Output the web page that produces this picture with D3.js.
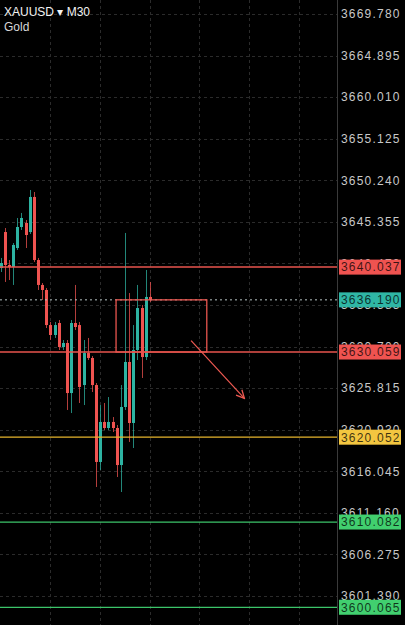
<!DOCTYPE html>
<html>
<head>
<meta charset="utf-8">
<script src="https://cdnjs.cloudflare.com/ajax/libs/d3/7.8.5/d3.min.js"></script>
<style>
  html, body { margin: 0; padding: 0; background: #000; overflow: hidden; }
  #chart { width: 405px; height: 625px; }
</style>
</head>
<body>
<div id="chart"></div>
<script>
// XAUUSD M30 bars (oldest first)
var opens  = [3639.93, 3644.16, 3640.29, 3640.05, 3642.28, 3644.75, 3645.22, 3644.16, 3648.28, 3640.87,
              3637.94, 3637.35, 3633.23, 3632.06, 3633.47, 3630.65, 3631.12, 3625.24, 3633.47, 3633.23,
              3626.18, 3629.94, 3629.36, 3626.18, 3617.14, 3621.84, 3621.13, 3621.84, 3621.13, 3616.78,
              3623.60, 3628.89, 3621.72, 3630.30, 3635.23, 3629.47, 3636.53];
var highs  = [3641.11, 3644.63, 3640.87, 3642.87, 3645.81, 3646.40, 3645.57, 3649.10, 3648.86, 3641.11,
              3638.17, 3637.58, 3633.59, 3633.59, 3633.82, 3631.47, 3631.47, 3633.82, 3637.94, 3633.59,
              3631.47, 3631.71, 3629.59, 3626.42, 3623.83, 3624.07, 3624.77, 3622.42, 3621.48, 3626.18,
              3644.05, 3636.99, 3633.23, 3637.94, 3635.58, 3639.70, 3638.29];
var lows   = [3639.46, 3638.29, 3638.52, 3637.94, 3642.05, 3644.40, 3642.28, 3643.93, 3640.64, 3637.35,
              3636.17, 3632.88, 3631.47, 3631.71, 3630.30, 3630.30, 3623.25, 3622.89, 3632.65, 3624.07,
              3623.83, 3629.12, 3625.36, 3614.20, 3616.20, 3620.90, 3620.90, 3620.66, 3615.37, 3613.61,
              3623.25, 3619.49, 3618.78, 3629.12, 3627.01, 3629.12, 3635.94];
var closes = [3640.52, 3640.29, 3640.05, 3642.64, 3644.75, 3645.81, 3643.81, 3648.28, 3640.87, 3637.94,
              3637.35, 3633.23, 3632.06, 3633.23, 3630.65, 3631.12, 3625.24, 3633.47, 3633.00, 3625.95,
              3629.94, 3629.36, 3626.18, 3617.14, 3621.84, 3621.13, 3621.84, 3621.13, 3616.78, 3623.60,
              3628.89, 3621.72, 3630.30, 3635.23, 3629.47, 3636.53, 3636.19];

// price scale labels
var tickLabels = ["3669.780", "3664.895", "3660.010", "3655.125", "3650.240", "3645.355", "3640.470",
                  "3635.585", "3630.700", "3625.815", "3620.930", "3616.045", "3611.160", "3606.275", "3601.390"];

// horizontal levels drawn on the chart
var levelPrices = [3640.037, 3630.059, 3620.052, 3610.082, 3600.065];
var lastPrice = 3636.190;

// rectangle and arrow objects (bar index, price)
var boxBars = [27.85, 49.76];
var boxPrices = [3636.19, 3630.059];
var arrowBars = [45.97, 58.84];
var arrowPrices = [3631.39, 3624.62];

// vertical grid every 12 bars (6 hours)
var gridBars = [12, 24, 36, 48, 60, 72];

function init(){

  var w = 405, h = 625;
  var plotW = 337;

  var red = "#ef5350", teal = "#2db3a2";
  var levelColors = ["#e8554e", "#e8554e", "#e6b42c", "#3cc46a", "#3cc46a"];
  var labelColors = ["#ef5350", "#ef5350", "#f3c640", "#41cf6f", "#41cf6f"];
  var levelWidths = [1.5, 1.5, 1.2, 1.2, 1.2];

  var font = "'Liberation Sans', Arial, sans-serif";

  var svg = d3.select("#chart")
              .append("svg")
                .attr("width", w)
                .attr("height", h)
                .style("background", "#000");

  var xScale = d3.scaleLinear()
        .domain([-0.17, 81.2])
        .range([0, plotW]);

  var yScale = d3.scaleLinear()
        .domain([+tickLabels[0], +tickLabels[tickLabels.length - 1]])
        .range([14, 596]);

  svg.append("clipPath")
      .attr("id", "plotclip")
    .append("rect")
      .attr("width", plotW)
      .attr("height", h);

  var plot = svg.append("g").attr("clip-path", "url(#plotclip)");

  //grid lines
  plot.selectAll(".hgrid")
    .data(tickLabels)
    .enter()
    .append("line")
      .attr("x1", 0)
      .attr("x2", plotW)
      .attr("y1", function(d){ return Math.round(yScale(+d)) + 0.5; })
      .attr("y2", function(d){ return Math.round(yScale(+d)) + 0.5; })
      .attr("stroke", "#2b2b2b")
      .attr("stroke-dasharray", "3,3");

  plot.selectAll(".vgrid")
    .data(gridBars)
    .enter()
    .append("line")
      .attr("x1", function(d){ return Math.round(xScale(d)) + 0.5; })
      .attr("x2", function(d){ return Math.round(xScale(d)) + 0.5; })
      .attr("y1", 0)
      .attr("y2", h)
      .attr("stroke", "#2b2b2b")
      .attr("stroke-dasharray", "3,3");

  //candles
  var bars = opens.map(function(o, i){
    return {i: i, o: o, h: highs[i], l: lows[i], c: closes[i]};
  });

  var candle = plot.selectAll(".candle")
    .data(bars)
    .enter()
    .append("g");

  candle.append("line")
      .attr("x1", function(d){ return Math.round(xScale(d.i)) + 0.5; })
      .attr("x2", function(d){ return Math.round(xScale(d.i)) + 0.5; })
      .attr("y1", function(d){ return yScale(d.h); })
      .attr("y2", function(d){ return yScale(d.l); })
      .attr("stroke", function(d){ return d.c >= d.o ? teal : red; })
      .attr("stroke-opacity", 0.75);

  candle.append("rect")
      .attr("x", function(d){ return Math.round(xScale(d.i)) - 1; })
      .attr("width", 3)
      .attr("y", function(d){ return yScale(Math.max(d.o, d.c)); })
      .attr("height", function(d){ return Math.max(1, Math.abs(yScale(d.o) - yScale(d.c))); })
      .attr("fill", function(d){ return d.c >= d.o ? teal : red; });

  //current price line
  plot.append("line")
      .attr("x1", 0)
      .attr("x2", plotW)
      .attr("y1", yScale(lastPrice))
      .attr("y2", yScale(lastPrice))
      .attr("stroke", "#b8c4c4")
      .attr("stroke-dasharray", "2,3");

  //levels
  plot.selectAll(".level")
    .data(levelPrices)
    .enter()
    .append("line")
      .attr("x1", 0)
      .attr("x2", plotW)
      .attr("y1", function(d){ return yScale(d); })
      .attr("y2", function(d){ return yScale(d); })
      .attr("stroke", function(d, i){ return levelColors[i]; })
      .attr("stroke-width", function(d, i){ return levelWidths[i]; });

  //rectangle
  plot.append("rect")
      .attr("x", xScale(boxBars[0]))
      .attr("y", yScale(boxPrices[0]))
      .attr("width", xScale(boxBars[1]) - xScale(boxBars[0]))
      .attr("height", yScale(boxPrices[1]) - yScale(boxPrices[0]))
      .attr("fill", "none")
      .attr("stroke", "#e8554e")
      .attr("stroke-width", 1.3);

  //arrow
  svg.append("defs")
    .append("marker")
      .attr("id", "head")
      .attr("viewBox", "0 0 10 10")
      .attr("refX", 9)
      .attr("refY", 5)
      .attr("markerWidth", 10)
      .attr("markerHeight", 10)
      .attr("markerUnits", "userSpaceOnUse")
      .attr("orient", "auto")
    .append("path")
      .attr("d", "M1,1 L9,5 L1,9")
      .attr("fill", "none")
      .attr("stroke", "#ef5a52")
      .attr("stroke-width", 1.3);

  plot.append("line")
      .attr("x1", xScale(arrowBars[0]))
      .attr("y1", yScale(arrowPrices[0]))
      .attr("x2", xScale(arrowBars[1]))
      .attr("y2", yScale(arrowPrices[1]))
      .attr("stroke", "#ef5a52")
      .attr("stroke-width", 1.2)
      .attr("marker-end", "url(#head)");

  //price axis
  var yAxis = d3.axisRight()
        .scale(yScale)
        .tickValues(tickLabels.map(function(d){ return +d; }))
        .tickSize(0)
        .tickPadding(4)
        .tickFormat(d3.format(".3f"));

  var axis = svg.append("g")
      .attr("transform", "translate(" + plotW + ",0)")
      .call(yAxis);

  axis.select(".domain").remove();
  axis.selectAll("text")
      .attr("fill", "#c8c8c8")
      .style("font", "12px " + font)
      .style("letter-spacing", "1.2px");

  svg.append("line")
      .attr("x1", plotW + 0.5)
      .attr("x2", plotW + 0.5)
      .attr("y1", 0)
      .attr("y2", h)
      .attr("stroke", "#3a3a3a");

  //price labels
  var tags = levelPrices.map(function(p, i){ return {p: p, fill: labelColors[i]}; });
  tags.splice(1, 0, {p: lastPrice, fill: "#2fb6a5"});

  var tag = svg.selectAll(".tag")
    .data(tags)
    .enter()
    .append("g")
      .attr("transform", function(d){ return "translate(" + (plotW + 2) + "," + yScale(d.p) + ")"; });

  tag.append("rect")
      .attr("x", 0)
      .attr("y", -7.5)
      .attr("width", 62)
      .attr("height", 15)
      .attr("fill", function(d){ return d.fill; });

  tag.append("text")
      .attr("x", 2)
      .attr("dy", "0.36em")
      .attr("fill", "#000")
      .attr("fill-opacity", 0.75)
      .style("font", "12px " + font)
      .style("letter-spacing", "1.2px")
      .text(function(d){ return d3.format(".3f")(d.p); });

  //symbol title
  svg.append("text")
      .attr("x", 4)
      .attr("y", 16)
      .attr("fill", "#f2f2f2")
      .style("font", "12px " + font)
      .text("XAUUSD \u25BE M30");

  svg.append("text")
      .attr("x", 4)
      .attr("y", 31)
      .attr("fill", "#d8d8d8")
      .style("font", "12px " + font)
      .text("Gold");
}

window.onload = init;
</script>
</body>
</html>
